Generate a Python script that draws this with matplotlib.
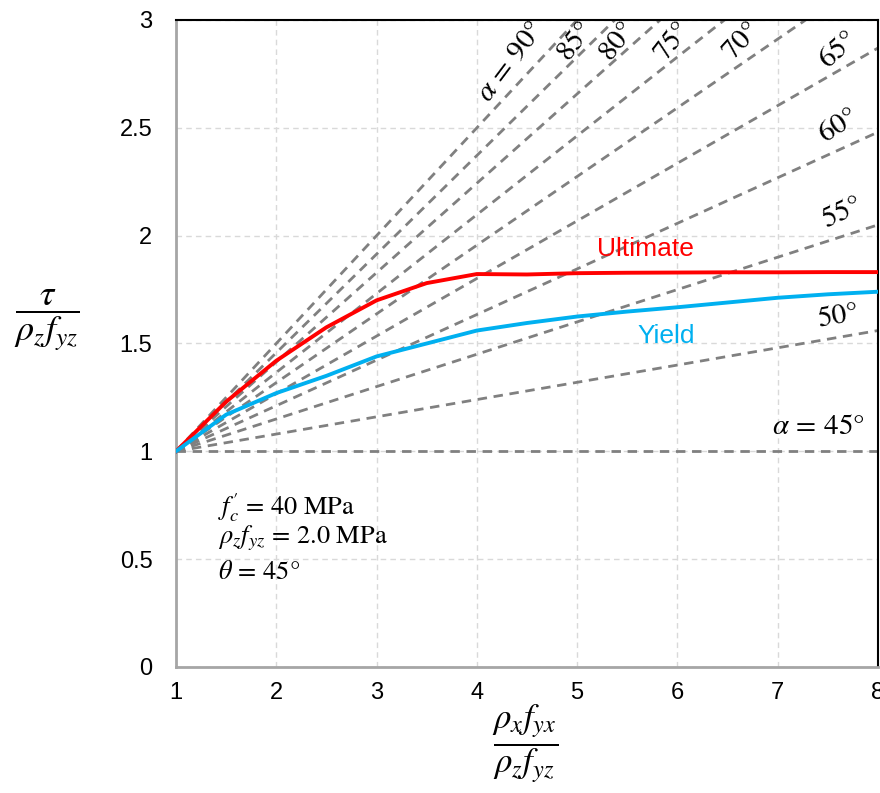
import matplotlib
matplotlib.use("Agg")
import matplotlib.pyplot as plt
import numpy as np

plt.rcParams["font.family"] = ["Liberation Sans", "DejaVu Sans"]
plt.rcParams["mathtext.fontset"] = "stix"

# ultimate / yield curves
ult_x = [1, 1.5, 2, 2.5, 3, 3.5, 4, 4.5, 5, 5.5, 6, 6.5, 7, 7.5, 8]
ult_y = [1.0, 1.23, 1.42, 1.575, 1.70, 1.78, 1.822, 1.82, 1.826, 1.828, 1.829, 1.83, 1.83, 1.831, 1.831]
yld_x = [1, 1.5, 2, 2.5, 3, 3.5, 4, 4.5, 5, 5.5, 6, 6.5, 7, 7.5, 8]
yld_y = [1.0, 1.17, 1.27, 1.35, 1.44, 1.50, 1.56, 1.595, 1.625, 1.648, 1.668, 1.69, 1.712, 1.728, 1.74]

# alpha reference lines: start at (1, 1), value reached at x = 8 (clipped at y = 3)
alpha_deg = [45, 50, 55, 60, 65, 70, 75, 80, 85, 90]
alpha_end = [1.0, 1.56, 2.05, 2.48, 2.87, 3.23, 3.56, 3.90, 4.20, 4.50]

# label text, position, rotation
alpha_lbl = [r"$\alpha\,=\,45°$", r"$50°$", r"$55°$", r"$60°$", r"$65°$",
             r"$70°$", r"$75°$", r"$80°$", r"$85°$", r"$\alpha\,=\,90°$"]
alpha_lx = [7.40, 7.60, 7.64, 7.60, 7.60, 6.63, 5.94, 5.40, 4.98, 4.33]
alpha_ly = [1.117, 1.63, 2.11, 2.51, 2.86, 2.90, 2.90, 2.90, 2.90, 2.805]
alpha_rot = [0, 10, 25, 33, 42, 47, 52, 52, 52, 53]

xticks = [1, 2, 3, 4, 5, 6, 7, 8]
yticks = [0, 0.5, 1, 1.5, 2, 2.5, 3]
ytick_lbl = ["0", "0.5", "1", "1.5", "2", "2.5", "3"]

fig = plt.figure(figsize=(8.8, 7.93), dpi=100)
ax = fig.add_axes([0.2, 0.1589, 0.7977, 0.8159])

for a, e in zip(alpha_deg, alpha_end):
    ax.plot([1, 8], [1, e], color="#808080", lw=2.0, dashes=(3.4, 2.4), zorder=2)

ax.plot(ult_x, ult_y, color="#FF0000", lw=2.8, zorder=4)
ax.plot(yld_x, yld_y, color="#00B0F0", lw=2.8, zorder=4)

for t, x, y, r in zip(alpha_lbl, alpha_lx, alpha_ly, alpha_rot):
    ax.text(x, y, t, fontsize=21, rotation=r, ha="center", va="center",
            rotation_mode="anchor", zorder=5)

ax.text(5.68, 1.94, "Ultimate", color="#FF0000", fontsize=19, ha="center", va="center")
ax.text(5.89, 1.535, "Yield", color="#00B0F0", fontsize=19, ha="center", va="center")

ax.text(1.42, 0.737, r"$f_c'\,=\,40\ \mathrm{MPa}$", fontsize=19, va="center")
ax.text(1.42, 0.598, r"$\rho_z f_{yz}\,=\,2.0\ \mathrm{MPa}$", fontsize=19, va="center")
ax.text(1.42, 0.44, r"$\theta\,=\,45°$", fontsize=19, va="center")

ax.set_xlim(1, 8)
ax.set_ylim(0, 3)
ax.set_xticks(xticks)
ax.set_yticks(yticks)
ax.set_yticklabels(ytick_lbl)
ax.tick_params(length=0, labelsize=17)
ax.tick_params(axis="x", pad=11)
ax.tick_params(axis="y", pad=17)
ax.grid(True, color="#d9d9d9", ls=(0, (4, 3)), lw=1.0, zorder=0)
ax.set_axisbelow(True)

for s in ["left", "bottom"]:
    ax.spines[s].set_color("#a6a6a6")
    ax.spines[s].set_linewidth(2.0)
for s in ["top", "right"]:
    ax.spines[s].set_color("black")
    ax.spines[s].set_linewidth(1.5)

fig.text(0.053, 0.596, r"$\dfrac{\tau}{\rho_z f_{yz}}$", fontsize=26, ha="center", va="center")
fig.text(0.597, 0.062, r"$\dfrac{\rho_x f_{yx}}{\rho_z f_{yz}}$", fontsize=25, ha="center", va="center")

fig.savefig("out.png", dpi=100)
